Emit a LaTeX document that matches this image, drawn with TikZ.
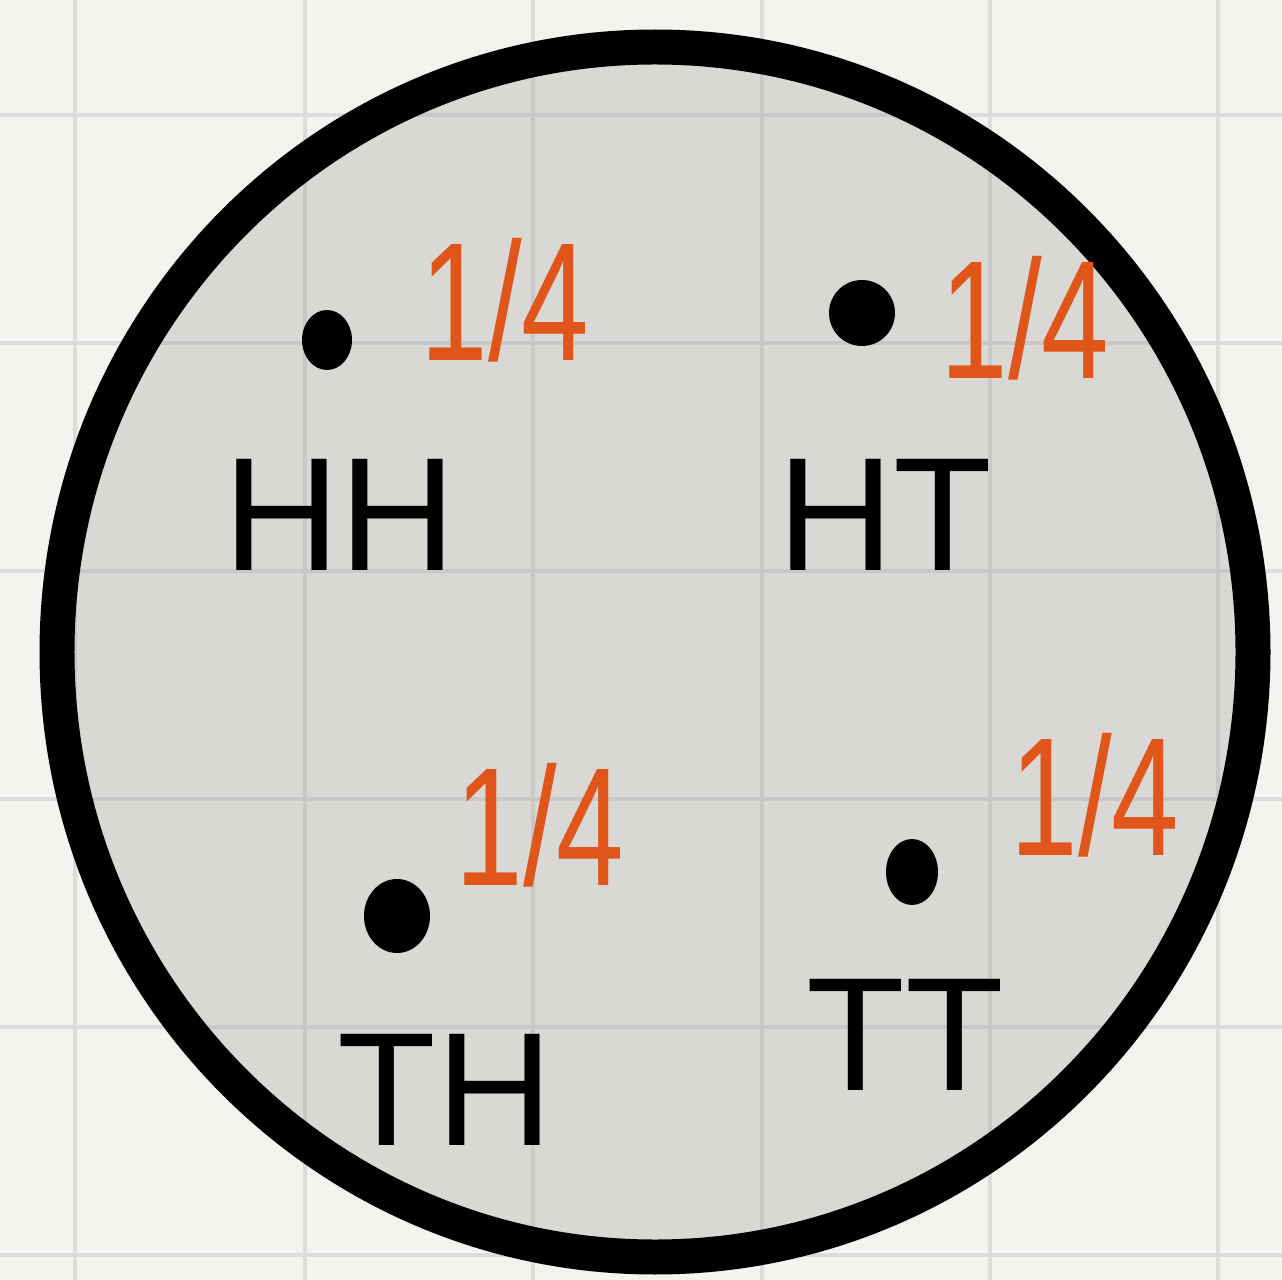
\documentclass[tikz,border=0pt]{standalone}
\usepackage{fontspec}
\usepackage{graphicx}
\setmainfont{Liberation Sans}
\definecolor{paper}{HTML}{F4F3F0}
\definecolor{gridc}{HTML}{DCDCDC}
\definecolor{gridin}{HTML}{C8C8C8}
\definecolor{disk}{HTML}{D9D8D5}
\definecolor{prob}{HTML}{E0561A}
\tikzset{
  gridline/.style={draw=gridc, line width=0.08cm},
  gridinner/.style={draw=gridin, line width=0.08cm},
  outcome/.style={inner sep=0pt, font=\fontsize{92}{96}\selectfont, text=black},
  problabel/.style={inner sep=0pt, font=\fontsize{96}{100}\selectfont, text=prob},
  point/.style={fill=black, draw=none}
}
\begin{document}
\begin{tikzpicture}[x=0.02cm,y=-0.02cm]
\useasboundingbox (0,0) rectangle (1282,1280);
\fill[paper] (0,0) rectangle (1282,1280);
% grid outside
\foreach \gx in {75,305,533,762,990,1218}
  \draw[gridline] (\gx,0) -- (\gx,1280);
\foreach \gy in {115,343,571,799,1027,1255}
  \draw[gridline] (0,\gy) -- (1282,\gy);
% disk fill
\fill[disk] (655,652) ellipse [x radius=598, y radius=605];
% grid inside the disk
\begin{scope}
  \clip (655,652) ellipse [x radius=598, y radius=605];
  \foreach \gx in {75,305,533,762,990,1218}
    \draw[gridinner] (\gx,0) -- (\gx,1280);
  \foreach \gy in {115,343,571,799,1027,1255}
    \draw[gridinner] (0,\gy) -- (1282,\gy);
\end{scope}
% outline
\draw[line width=0.7cm, black] (655,652) ellipse [x radius=598, y radius=605];
% points
\fill[point] (327,340) ellipse [x radius=25, y radius=30];
\fill[point] (862,313) ellipse [x radius=33, y radius=33];
\fill[point] (397,916) ellipse [x radius=33, y radius=37];
\fill[point] (912,872) ellipse [x radius=26, y radius=33];
% outcome labels
\node[outcome] (hh) at (340,515) {HH};
\node[outcome] (ht) at (885,515) {HT};
\node[outcome] (th) at (445,1090) {TH};
\node[outcome] (tt) at (905,1035) {TT};
% probabilities
\node[problabel] (p1) at (505,300) {\scalebox{0.72}[1]{1/4}};
\node[problabel] (p2) at (1025,318) {\scalebox{0.72}[1]{1/4}};
\node[problabel] (p3) at (540,825) {\scalebox{0.72}[1]{1/4}};
\node[problabel] (p4) at (1095,795) {\scalebox{0.72}[1]{1/4}};
\end{tikzpicture}
\end{document}
